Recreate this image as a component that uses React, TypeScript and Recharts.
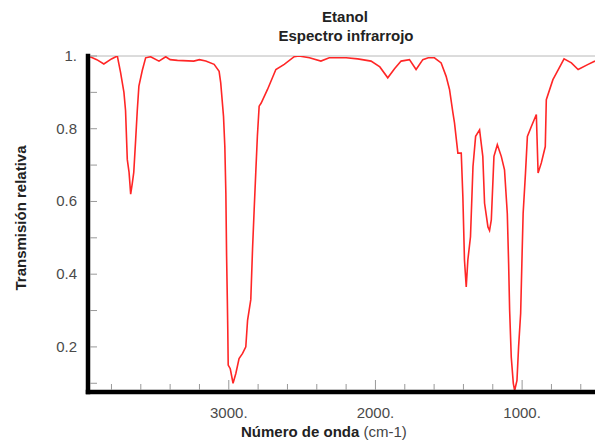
import { LineChart, Line, XAxis, YAxis, ReferenceLine } from 'recharts';

// número de onda (cm-1), de mayor a menor
const waveNumbers = [
  3960, 3930, 3900, 3852, 3800, 3760, 3738, 3715, 3704, 3692, 3680, 3669, 3658, 3648, 3635, 3624,
  3613, 3590, 3567, 3533, 3476, 3430, 3400, 3350, 3239, 3200, 3157, 3100, 3066, 3055, 3036, 3027,
  3020, 3015, 3010, 3007, 3004, 2990, 2971, 2952, 2930, 2906, 2884, 2872, 2850, 2838, 2827, 2816,
  2805, 2793, 2780, 2736, 2679, 2622, 2554, 2522, 2450, 2372, 2315, 2200, 2121, 2030, 1970, 1916,
  1870, 1825, 1768, 1723, 1677, 1640, 1598, 1552, 1518, 1495, 1472, 1461, 1438, 1415, 1404, 1393,
  1381, 1370, 1352, 1335, 1317, 1290, 1268, 1256, 1233, 1222, 1210, 1192, 1169, 1142, 1120, 1101,
  1092, 1085, 1074, 1060, 1051, 1035, 1024, 1010, 1000, 993, 977, 964, 937, 903, 891, 869,
  842, 835, 790, 778, 714, 664, 618, 550, 503,
];

// transmisión relativa
const transmission = [
  1.0, 0.995, 0.99, 0.978, 0.992, 1.0, 0.955, 0.9, 0.85, 0.715, 0.68, 0.62, 0.65, 0.68, 0.77, 0.85,
  0.917, 0.96, 0.995, 0.998, 0.986, 0.998, 0.99, 0.988, 0.986, 0.99, 0.986, 0.977, 0.958, 0.926, 0.834, 0.751,
  0.623, 0.45, 0.33, 0.25, 0.15, 0.14, 0.1, 0.127, 0.168, 0.182, 0.2, 0.273, 0.33, 0.47, 0.577, 0.68,
  0.78, 0.862, 0.87, 0.908, 0.963, 0.977, 0.998, 1.0, 0.995, 0.986, 0.995, 0.995, 0.992, 0.986, 0.97, 0.94,
  0.965, 0.986, 0.99, 0.963, 0.99, 0.995, 0.995, 0.981, 0.944, 0.908, 0.844, 0.816, 0.733, 0.733, 0.613, 0.439,
  0.365, 0.439, 0.503, 0.696, 0.779, 0.797, 0.724, 0.595, 0.53, 0.52, 0.549, 0.724, 0.756, 0.724, 0.687, 0.567,
  0.43, 0.3, 0.172, 0.1, 0.08, 0.108, 0.2, 0.292, 0.457, 0.567, 0.678, 0.779, 0.806, 0.839, 0.678, 0.706,
  0.751, 0.88, 0.935, 0.944, 0.992, 0.981, 0.963, 0.977, 0.986,
];

const xTicks = [3800, 3600, 3400, 3200, 3000, 2800, 2600, 2400, 2200, 2000, 1800, 1600, 1400, 1200, 1000, 800, 600];
const xLabeled = [3000, 2000, 1000];
const yTicks = [0.1, 0.2, 0.3, 0.4, 0.5, 0.6, 0.7, 0.8, 0.9, 1.0];
const yLabeled = [0.2, 0.4, 0.6, 0.8, 1.0];

const data = waveNumbers.map((wn, i) => ({ wn, t: transmission[i] }));

const FONT = '"Liberation Sans", Arial, sans-serif';

const XTick = ({ x, y, payload }: any) => {
  const major = xLabeled.includes(payload.value);
  return (
    <g>
      <line x1={x} y1={y - 2} x2={x} y2={y - (major ? 12 : 8)} stroke="#999" strokeWidth={1} />
      {major && (
        <text x={x} y={y + 26} textAnchor="middle" fontSize={15} fill="#4a4a4a" fontFamily={FONT}>
          {payload.value + '.'}
        </text>
      )}
    </g>
  );
};

const YTick = ({ x, y, payload }: any) => {
  const v = Math.round(payload.value * 10) / 10;
  const labeled = yLabeled.includes(v);
  return (
    <g>
      <line x1={x + 2} y1={y} x2={x + 9} y2={y} stroke="#999" strokeWidth={1} />
      {labeled && (
        <text x={x - 11} y={y + 5} textAnchor="end" fontSize={15} fill="#4a4a4a" fontFamily={FONT}>
          {v === 1 ? '1.' : v.toFixed(1)}
        </text>
      )}
    </g>
  );
};

export default function App() {
  return (
    <div style={{ position: 'relative', width: 595, height: 443, background: '#fff' }}>
      <style>{`body{margin:0}`}</style>
      <LineChart width={595} height={443} data={data} margin={{ top: 56, right: 0, bottom: 21, left: 58 }}>
        <ReferenceLine y={1} stroke="#b8b8b8" strokeWidth={1} ifOverflow="extendDomain" />
        <XAxis
          dataKey="wn"
          type="number"
          domain={[503, 3960]}
          reversed
          allowDataOverflow
          ticks={xTicks}
          interval={0}
          height={30}
          tickSize={0}
          tickMargin={0}
          tickLine={false}
          tick={<XTick />}
          axisLine={{ stroke: '#000', strokeWidth: 4.5, strokeLinecap: 'square' }}
        />
        <YAxis
          type="number"
          domain={[0.076, 1.0]}
          allowDataOverflow
          ticks={yTicks}
          interval={0}
          width={30}
          tickSize={0}
          tickMargin={0}
          tickLine={false}
          tick={<YTick />}
          axisLine={{ stroke: '#000', strokeWidth: 4.5, strokeLinecap: 'square' }}
        />
        <Line
          type="linear"
          dataKey="t"
          stroke="#ff2626"
          strokeWidth={1.6}
          dot={false}
          isAnimationActive={false}
        />
      </LineChart>
      <svg width={595} height={443} style={{ position: 'absolute', left: 0, top: 0, pointerEvents: 'none' }}>
        <text x={345} y={22} textAnchor="middle" fontSize={15} fontWeight="bold" fill="#222" fontFamily={FONT}>
          Etanol
        </text>
        <text x={346} y={41} textAnchor="middle" fontSize={15} fontWeight="bold" fill="#222" fontFamily={FONT}>
          Espectro infrarrojo
        </text>
        <text x={26} y={218} textAnchor="middle" fontSize={15} fontWeight="bold" fill="#222" fontFamily={FONT} transform="rotate(-90, 26, 218)">
          Transmisión relativa
        </text>
        <text x={241} y={437} fontSize={15} fill="#222" fontFamily={FONT}>
          <tspan fontWeight="bold">Número de onda</tspan>
          <tspan fill="#444"> (cm-1)</tspan>
        </text>
      </svg>
    </div>
  );
}
